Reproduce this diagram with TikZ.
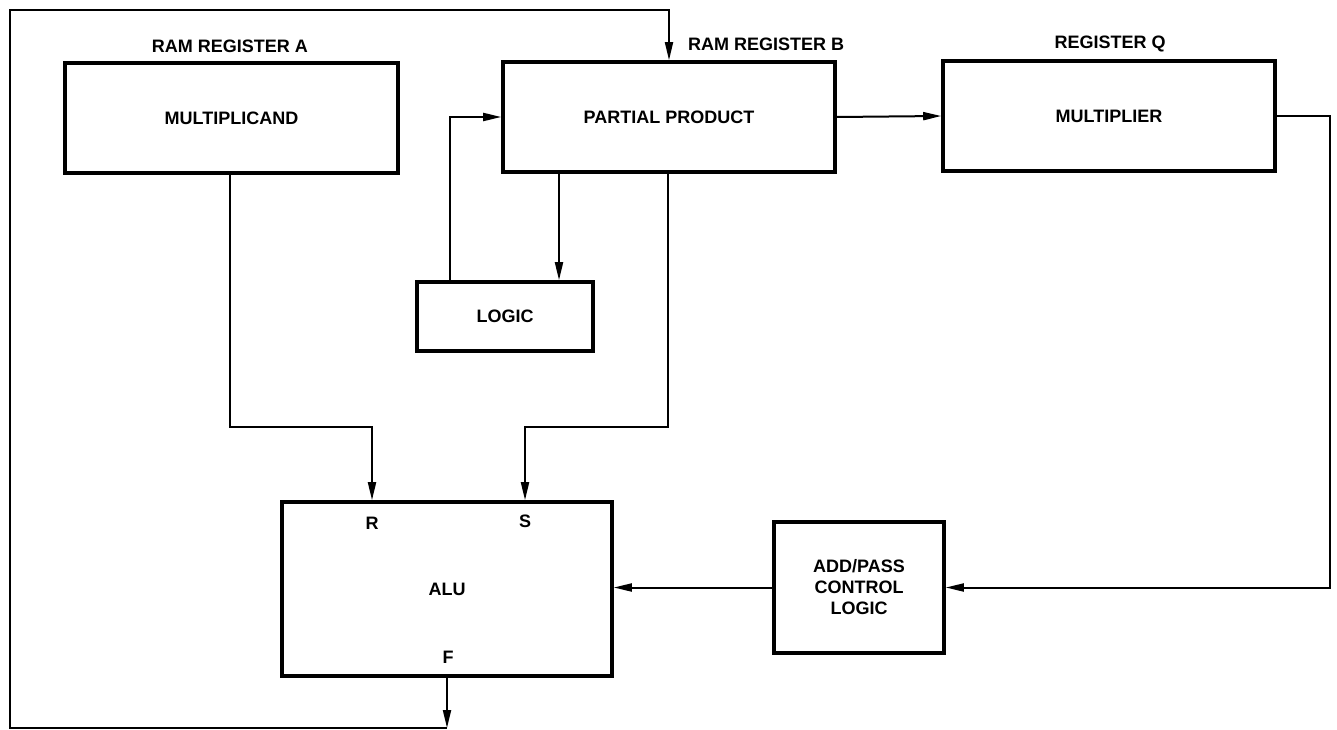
\documentclass[tikz,border=0pt]{standalone}
\usepackage{fontspec}
\setmainfont{Liberation Sans}
\usetikzlibrary{arrows.meta}
\tikzset{
  blk/.style={draw, line width=3.6pt, inner sep=0pt, font=\fontsize{18}{21}\selectfont\bfseries, align=center},
  lbl/.style={inner sep=0pt, font=\fontsize{18}{21}\selectfont\bfseries},
  arr/.style={line width=2pt, -{Triangle[length=18pt,width=8pt]}},
  wire/.style={line width=1.8pt},
}
\begin{document}
\begin{tikzpicture}[x=1pt,y=-1pt]
\useasboundingbox (0,0) rectangle (1337,730);
% boxes
\node[blk, minimum width=333pt, minimum height=110pt] (mult) at (231.5,118) {MULTIPLICAND};
\node[blk, minimum width=332pt, minimum height=110pt] (pp) at (669,117) {PARTIAL PRODUCT};
\node[blk, minimum width=332pt, minimum height=110pt] (mq) at (1109,116) {MULTIPLIER};
\node[blk, minimum width=176pt, minimum height=69pt] (logic) at (505,316.5) {LOGIC};
\node[blk, minimum width=330pt, minimum height=174pt] (alu) at (447,589) {ALU};
\node[blk, minimum width=170pt, minimum height=131pt] (apc) at (859,587.5) {ADD/PASS\\CONTROL\\LOGIC};
% labels
\node[lbl] (la) at (230,46) {RAM REGISTER A};
\node[lbl, anchor=west] (lb) at (688,44) {RAM REGISTER B};
\node[lbl] (lq) at (1110,44) {REGISTER Q};
\node[lbl] (r) at (372,523) {R};
\node[lbl] (s) at (525,521) {S};
\node[lbl] (f) at (448,657) {F};
% helper coordinates
\coordinate (rturn) at (372,427);
\coordinate (sturn) at (525,427);
\coordinate (dx) at (559,200);
\coordinate (ux) at (450,200);
\coordinate (qr) at (1330,116);
\coordinate (fb) at (447,728);
\coordinate (bl) at (10,728);
\coordinate (tl) at (10,10);
\coordinate (tr) at (669,10);
% connectors
\draw[arr] (pp.east) -- (mq.west);
\draw[arr] (mq.east) -- (qr) |- (apc.east);
\draw[arr] (apc.west) -- (alu.east |- apc.west);
\draw[arr] ([xshift=-1.5pt]mult.south) |- (rturn) -- (rturn |- alu.north);
\draw[arr] ([xshift=-1pt]pp.south) |- (sturn) -- (sturn |- alu.north);
\draw[arr] (pp.south -| dx) -- (logic.north -| dx);
\draw[arr] (logic.north -| ux) |- (pp.west);
\draw[arr] (alu.south) -- (fb);
\draw[wire, -{Triangle[length=18pt,width=8pt]}] (fb) -- (bl) -- (tl) -- (tr) -- (pp.north);
\end{tikzpicture}
\end{document}
